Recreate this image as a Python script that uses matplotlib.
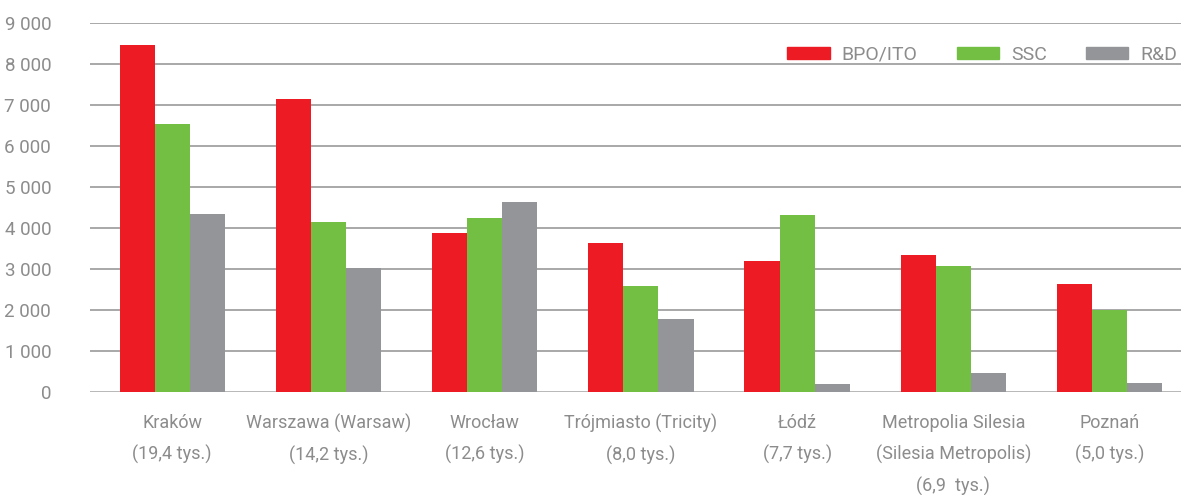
import numpy as np
import matplotlib.pyplot as plt
from matplotlib.ticker import FuncFormatter
from matplotlib.patches import Patch

cities = [
    "Kraków\n(19,4 tys.)",
    "Warszawa (Warsaw)\n(14,2 tys.)",
    "Wrocław\n(12,6 tys.)",
    "Trójmiasto (Tricity)\n(8,0 tys.)",
    "Łódź\n(7,7 tys.)",
    "Metropolia Silesia\n(Silesia Metropolis)\n(6,9  tys.)",
    "Poznań\n(5,0 tys.)",
]
bpo_ito = [8450, 7150, 3880, 3630, 3200, 3340, 2630]
ssc = [6530, 4150, 4240, 2590, 4320, 3080, 2000]
rnd = [4330, 3020, 4630, 1780, 200, 470, 220]

series = ["BPO/ITO", "SSC", "R&D"]
colors = ["#ed1c24", "#72bf44", "#939598"]
text_gray = "#8c8c8c"

plt.rcParams["font.family"] = ["Roboto", "DejaVu Sans"]

fig = plt.figure(figsize=(11.85, 4.95), dpi=100)
ax = fig.add_axes([0.076, 0.208, 0.921, 0.746])

x = np.arange(len(cities))
w = 0.225
for i, (vals, c) in enumerate(zip([bpo_ito, ssc, rnd], colors)):
    ax.bar(x + (i - 1) * w, vals, width=w, color=c, zorder=3)

ax.set_ylim(0, 9000)
ax.set_xlim(-0.526, 6.46)
ax.set_yticks(np.arange(0, 9001, 1000))
ax.yaxis.set_major_formatter(FuncFormatter(lambda v, p: f"{int(v):,}".replace(",", " ")))
ax.grid(axis="y", color="#9a9a9a", linewidth=1.2, zorder=0)
ax.axhline(0, color="#bbbbbb", linewidth=2, zorder=2)

for s in ax.spines.values():
    s.set_visible(False)

ax.tick_params(axis="y", length=0, pad=28, labelsize=13.5, labelcolor=text_gray)
ax.tick_params(axis="x", length=0, pad=16, labelsize=13, labelcolor=text_gray)
ax.set_xticks(x)
ax.set_xticklabels(cities, linespacing=1.85)

handles = [Patch(color=c, label=s) for s, c in zip(series, colors)]
leg = ax.legend(handles=handles, loc="upper right", bbox_to_anchor=(1.012, 0.985),
                ncol=3, frameon=False, fontsize=14, handlelength=2.2,
                handleheight=0.6, columnspacing=2.0, handletextpad=0.6)
for t in leg.get_texts():
    t.set_color(text_gray)

fig.savefig("out.png", dpi=100)
